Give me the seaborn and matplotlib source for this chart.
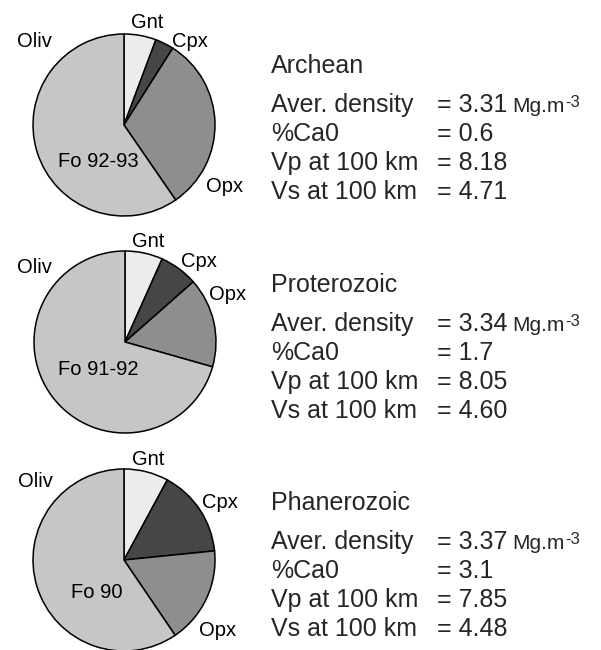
import matplotlib
matplotlib.use("Agg")
import matplotlib.pyplot as plt
import seaborn as sns

sns.set_theme(style="white")
plt.rcParams['font.family'] = ['Liberation Sans', 'DejaVu Sans']

# minerals, clockwise from 12 o'clock
minerals = ['Gnt', 'Cpx', 'Opx', 'Oliv']
mineral_colors = ['#ececec', '#464646', '#8e8e8e', '#c6c6c6']

eras = ['Archean', 'Proterozoic', 'Phanerozoic']
archean = [5.7, 3.3, 31.4, 59.6]
proterozoic = [6.7, 6.8, 15.9, 70.6]
phanerozoic = [7.9, 15.5, 17.1, 59.5]
forsterite = ['Fo 92-93', 'Fo 91-92', 'Fo 90']

density = ['3.31', '3.34', '3.37']
cao = ['0.6', '1.7', '3.1']
vp = ['8.18', '8.05', '7.85']
vs = ['4.71', '4.60', '4.48']

W, H = 601, 650
fig = plt.figure(figsize=(W / 100, H / 100), dpi=100)
ax = fig.add_axes([0, 0, 1, 1])

def Y(y):
    # image row -> data y
    return H - y

centers = [(124, 125), (125, 342), (124, 560)]
R = 91
# label (x-center, baseline row) per pie: Gnt, Cpx, Opx, Oliv, Fo
label_pos = [
    [(147, 28), (190, 47), (225, 192), (34, 47), (98, 167)],
    [(148, 247), (199, 267), (228, 300), (34, 273), (98, 375)],
    [(148, 465), (220, 508), (218, 636), (35, 487), (97, 598)],
]
text_top = [73, 292, 510]

for i, vals in enumerate([archean, proterozoic, phanerozoic]):
    cx, cy = centers[i]
    ax.pie(vals, colors=mineral_colors, startangle=90, counterclock=False,
           radius=R, center=(cx, Y(cy)), frame=True,
           wedgeprops=dict(edgecolor='black', linewidth=1.1))
    for name, (lx, ly) in zip(minerals, label_pos[i][:4]):
        ax.text(lx, Y(ly), name, ha='center', va='baseline', fontsize=14.5, color='black')
    fx, fy = label_pos[i][4]
    ax.text(fx, Y(fy), forsterite[i], ha='center', va='baseline', fontsize=14.5, color='black')

    t0 = text_top[i]
    ax.text(271, Y(t0), eras[i], ha='left', va='baseline', fontsize=18)
    rows = [('Aver. density', density[i]), ('%Ca0', cao[i]),
            ('Vp at 100 km', vp[i]), ('Vs at 100 km', vs[i])]
    for j, (lab, val) in enumerate(rows):
        yb = t0 + 39 + j * 29
        ax.text(271, Y(yb), lab, ha='left', va='baseline', fontsize=18)
        ax.text(437, Y(yb), '= ' + val, ha='left', va='baseline', fontsize=18)
        if j == 0:
            ax.text(512, Y(yb), 'Mg.m', ha='left', va='baseline', fontsize=15)
            ax.text(565, Y(yb - 5), '-3', ha='left', va='baseline', fontsize=12)

ax.set_xlim(0, W)
ax.set_ylim(0, H)
ax.set_aspect('auto')
ax.axis('off')

fig.savefig('out.png', dpi=100, facecolor='white')
